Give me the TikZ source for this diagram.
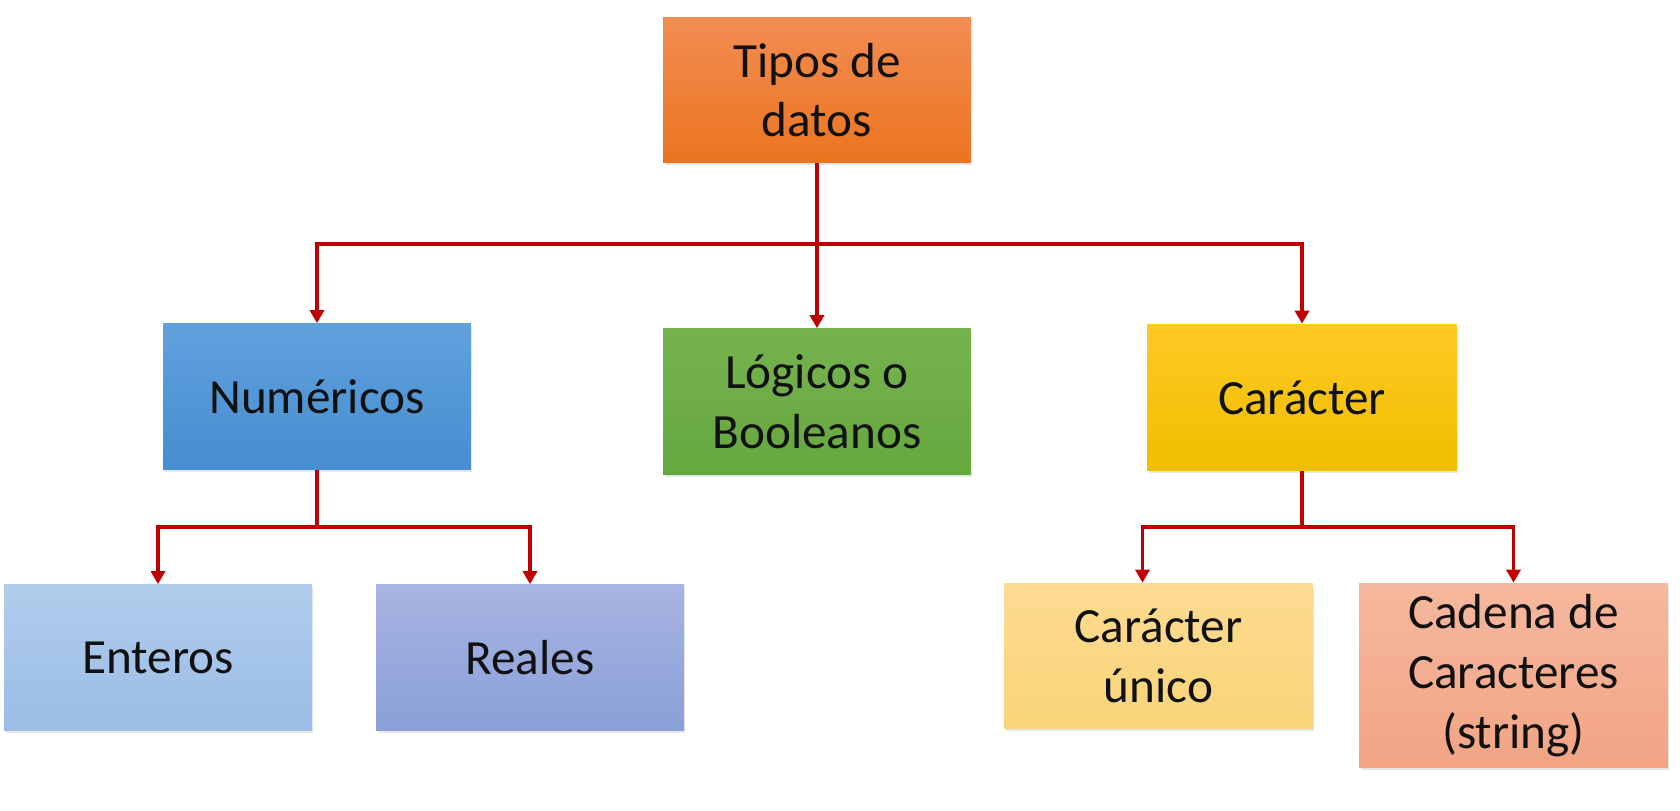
\documentclass[tikz,border=0pt]{standalone}
\usepackage{fontspec}
\setmainfont{Carlito}
\usetikzlibrary{arrows.meta, shadows}

\definecolor{rojo}{HTML}{C00000}
\definecolor{texto}{HTML}{111111}

\begin{document}
\begin{tikzpicture}[x=0.02cm, y=-0.02cm,
        caja/.style={rectangle, inner sep=0pt, align=center, minimum width=6.16cm, minimum height=2.92cm,
            font=\fontsize{28}{34}\selectfont, text=texto,
            drop shadow={shadow xshift=0.03cm, shadow yshift=-0.05cm, opacity=0.2}},
        linea/.style={draw=rojo, line width=0.066cm},
        flecha/.style={linea, -{Triangle[width=0.28cm, length=0.26cm]}}]
    \useasboundingbox (0,0) rectangle (1680,811);

    \node[caja, top color={rgb,255:red,242;green,141;blue,82}, bottom color={rgb,255:red,236;green,116;blue,32}] (tipos) at (817,90) {Tipos de\\datos};
    \node[caja, top color={rgb,255:red,96;green,161;blue,221}, bottom color={rgb,255:red,72;green,141;blue,208}] (num) at (317,396.5) {Numéricos};
    \node[caja, top color={rgb,255:red,118;green,179;blue,80}, bottom color={rgb,255:red,102;green,167;blue,62}] (log) at (817,401.5) {Lógicos o\\Booleanos};
    \node[caja, minimum width=6.2cm, minimum height=2.94cm, top color={rgb,255:red,255;green,201;blue,36}, bottom color={rgb,255:red,240;green,190;blue,0}] (car) at (1302,397.5) {Carácter};
    \node[caja, top color={rgb,255:red,176;green,205;blue,236}, bottom color={rgb,255:red,154;green,188;blue,230}] (ent) at (158,657.5) {Enteros};
    \node[caja, top color={rgb,255:red,168;green,180;blue,226}, bottom color={rgb,255:red,138;green,160;blue,216}] (rea) at (530,657.5) {Reales};
    \node[caja, minimum width=6.18cm, top color={rgb,255:red,253;green,219;blue,146}, bottom color={rgb,255:red,250;green,212;blue,120}] (unico) at (1158.5,656) {Carácter\\único};
    \node[caja, minimum width=6.18cm, minimum height=3.7cm, top color={rgb,255:red,246;green,184;blue,158}, bottom color={rgb,255:red,242;green,164;blue,132}] (cad) at (1513.5,675.5) {Cadena de\\Caracteres\\(string)};

    % buses
    \coordinate (b1) at (817,244);
    \coordinate (b2) at (317,527);
    \coordinate (b3) at (1302,527);

    \draw[linea] (tipos) -- (b1);
    \draw[flecha] (b1) -- (log);
    \draw[flecha] (b1) -| (num);
    \draw[flecha] (b1) -| (car);
    \draw[linea] (num) -- (b2);
    \draw[flecha] (b2) -| (ent);
    \draw[flecha] (b2) -| (rea);
    \draw[linea] (car) -- (b3);
    \draw[flecha] (b3) -| ([xshift=-0.32cm]unico.north);
    \draw[flecha] (b3) -| (cad);
\end{tikzpicture}
\end{document}
